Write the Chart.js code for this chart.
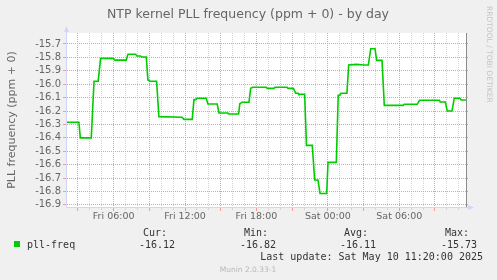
<!DOCTYPE html>
<html>
<head>
<meta charset="utf-8">
<title>NTP kernel PLL frequency - by day</title>
<script src="https://cdn.jsdelivr.net/npm/chart.js@4/dist/chart.umd.min.js"></script>
<style>
    html, body { margin: 0; padding: 0; background: #F0F0F0; }
    canvas { display: block; }
</style>
</head>
<body>
<canvas id="chart" width="497" height="280"></canvas>
<script>
// ── Data (hours since Fri 00:00, ppm) ──
const hours = [
    2.08, 3.08, 3.2, 4.12, 4.35, 4.7, 4.9, 5.97, 6.1, 7.06,
    7.2, 7.85, 7.95, 8.27, 8.35, 8.74, 8.88, 9.05, 9.61, 9.8,
    11.74, 11.9, 12.6, 12.75, 12.9, 13.0, 13.78, 13.92, 14.7, 14.85,
    15.6, 15.65, 16.5, 16.6, 16.8, 17.37, 17.51, 17.7, 18.82, 18.9,
    19.47, 19.55, 20.57, 20.65, 21.1, 21.3, 21.5, 21.55, 22.05, 22.2,
    22.69, 22.89, 23.17, 23.34, 23.9, 24.01, 24.71, 24.87, 25.0, 25.1,
    25.6, 25.75, 26.4, 27.0, 27.4, 27.6, 27.96, 28.1, 28.55, 28.74,
    30.34, 30.4, 31.5, 31.7, 33.37, 33.45, 33.87, 34.03, 34.43, 34.62,
    35.1, 35.2, 35.6,
];
const pllFreq = [
    -16.284, -16.284, -16.400, -16.400, -15.978, -15.978, -15.807, -15.807, -15.820, -15.820,
    -15.777, -15.777, -15.790, -15.790, -15.797, -15.797, -15.969, -15.978, -15.978, -16.242,
    -16.247, -16.262, -16.262, -16.115, -16.115, -16.105, -16.105, -16.148, -16.148, -16.215,
    -16.215, -16.222, -16.222, -16.145, -16.135, -16.135, -16.031, -16.023, -16.023, -16.031,
    -16.031, -16.023, -16.023, -16.031, -16.031, -16.068, -16.068, -16.075, -16.075, -16.456,
    -16.456, -16.715, -16.715, -16.815, -16.815, -16.583, -16.583, -16.083, -16.083, -16.068,
    -16.068, -15.857, -15.852, -15.857, -15.857, -15.735, -15.735, -15.822, -15.822, -16.158,
    -16.158, -16.150, -16.150, -16.120, -16.120, -16.133, -16.133, -16.200, -16.200, -16.105,
    -16.105, -16.118, -16.118,
];

const xMin = 2.08;
const xMax = 35.69;
const yMin = -16.916;
const yMax = -15.618;

const hourTicks = [];
for (let h = 3; h <= 35; h++) hourTicks.push(h);
const xLabelHours = [6, 12, 18, 24, 30];
const xLabelText = ['Fri 06:00', 'Fri 12:00', 'Fri 18:00', 'Sat 00:00', 'Sat 06:00'];
const yTicks = [-16.9, -16.8, -16.7, -16.6, -16.5, -16.4, -16.3, -16.2, -16.1, -16.0, -15.9, -15.8, -15.7];

const seriesName = 'pll-freq';
const statLabels = ['Cur:', 'Min:', 'Avg:', 'Max:'];
const statValues = ['-16.12', '-16.82', '-16.11', '-15.73'];
const lastUpdate = 'Last update: Sat May 10 11:20:00 2025';

// ── Munin / rrdtool colours ──
const FONT_COLOR = '#666666';
const AXIS_COLOR = '#CFD6F8';
const GRID_COLOR = '#D4D4D4';
const MGRID_COLOR = '#F29A9A';
const LINE_COLOR = '#00CC00';
const NONE = 'rgba(0,0,0,0)';
const SANS = "'DejaVu Sans', sans-serif";
const MONO = "'DejaVu Sans Mono', monospace";

// rrdtool style 1px dotted grid, placed through the chart scales
const dotGrid = {
    id: 'dotGrid',
    beforeDatasetsDraw(chart) {
        const { ctx, chartArea: a, scales: { x, y } } = chart;
        ctx.save();
        hourTicks.forEach(h => {
            const px = Math.floor(x.getPixelForValue(h));
            const major = h % 3 === 0;
            ctx.fillStyle = major ? MGRID_COLOR : GRID_COLOR;
            for (let py = a.top; py < a.bottom; py += 2) ctx.fillRect(px, py, 1, 1);
            ctx.fillRect(px, a.bottom + 1, 1, major ? 3 : 2);
        });
        ctx.fillStyle = MGRID_COLOR;
        yTicks.forEach(v => {
            const py = Math.floor(y.getPixelForValue(v));
            for (let px = a.left; px < a.right + 2; px += 2) ctx.fillRect(px, py, 1, 1);
            ctx.fillRect(a.left - 4, py, 3, 1);
        });
        ctx.restore();
    },
};

// Background, axes, title and the rrdtool-style legend
const muninFrame = {
    id: 'muninFrame',
    beforeDraw(chart) {
        const { ctx, chartArea: a } = chart;
        ctx.save();
        ctx.fillStyle = '#F0F0F0';
        ctx.fillRect(0, 0, chart.width, chart.height);
        ctx.fillStyle = '#FFFFFF';
        ctx.fillRect(a.left, a.top, a.right - a.left, a.bottom - a.top);
        ctx.restore();
    },
    afterDraw(chart) {
        const { ctx, chartArea: a } = chart;
        ctx.save();

        // right frame line
        ctx.strokeStyle = '#8C8C8C';
        ctx.lineWidth = 1;
        ctx.beginPath();
        ctx.moveTo(a.right - 0.5, a.top);
        ctx.lineTo(a.right - 0.5, a.bottom);
        ctx.stroke();

        // axes + arrows
        ctx.strokeStyle = AXIS_COLOR;
        ctx.fillStyle = AXIS_COLOR;
        ctx.beginPath();
        ctx.moveTo(a.left - 0.5, a.bottom + 0.5);
        ctx.lineTo(a.right + 3, a.bottom + 0.5);
        ctx.moveTo(a.left - 0.5, a.bottom + 0.5);
        ctx.lineTo(a.left - 0.5, a.top - 3);
        ctx.stroke();
        ctx.beginPath();
        ctx.moveTo(a.right + 1, a.bottom - 2);
        ctx.lineTo(a.right + 7, a.bottom + 0.5);
        ctx.lineTo(a.right + 1, a.bottom + 3);
        ctx.closePath();
        ctx.fill();
        ctx.beginPath();
        ctx.moveTo(a.left - 3, a.top - 1);
        ctx.lineTo(a.left - 0.5, a.top - 7);
        ctx.lineTo(a.left + 2, a.top - 1);
        ctx.closePath();
        ctx.fill();

        // title
        ctx.fillStyle = FONT_COLOR;
        ctx.textAlign = 'center';
        ctx.textBaseline = 'alphabetic';
        ctx.font = `12.5px ${SANS}`;
        ctx.fillText('NTP kernel PLL frequency (ppm + 0) - by day', 248, 18);

        // vertical axis label
        ctx.save();
        ctx.translate(15, (a.top + a.bottom) / 2);
        ctx.rotate(-Math.PI / 2);
        ctx.font = `11px ${SANS}`;
        ctx.fillText('PLL frequency (ppm + 0)', 0, 0);
        ctx.restore();

        // rrdtool watermark
        ctx.save();
        ctx.translate(487, 6);
        ctx.rotate(Math.PI / 2);
        ctx.textAlign = 'left';
        ctx.fillStyle = '#C4C4C4';
        ctx.font = `7.5px ${SANS}`;
        ctx.fillText('RRDTOOL / TOBI OETIKER', 0, 0);
        ctx.restore();

        // legend
        ctx.font = `10px ${MONO}`;
        ctx.fillStyle = LINE_COLOR;
        ctx.fillRect(14, 241, 6, 6);
        ctx.fillStyle = '#333333';
        ctx.textAlign = 'left';
        ctx.fillText(seriesName, 27, 248);

        const labelRight = [167, 268, 368, 469];
        ctx.textAlign = 'right';
        statLabels.forEach((lab, i) => {
            ctx.fillText(lab, labelRight[i], 236);
            ctx.fillText(statValues[i], labelRight[i] + 8, 248);
        });
        ctx.fillText(lastUpdate, 483, 260);

        ctx.textAlign = 'center';
        ctx.fillStyle = '#B8B8B8';
        ctx.font = `7.5px ${SANS}`;
        ctx.fillText('Munin 2.0.33-1', 248, 272);

        ctx.restore();
    },
};

new Chart(document.getElementById('chart'), {
    type: 'line',
    data: {
        datasets: [{
            label: seriesName,
            data: hours.map((h, i) => ({ x: h, y: pllFreq[i] })),
            borderColor: LINE_COLOR,
            borderWidth: 1.6,
            pointRadius: 0,
            tension: 0,
            fill: false,
        }],
    },
    options: {
        responsive: false,
        animation: false,
        layout: { padding: { left: 0, top: 33, right: 30, bottom: 0 } },
        plugins: {
            legend: { display: false },
            title: { display: false },
            tooltip: { enabled: false },
        },
        scales: {
            x: {
                type: 'linear',
                min: xMin,
                max: xMax,
                afterBuildTicks: s => { s.ticks = hourTicks.map(v => ({ value: v })); },
                afterFit: s => { s.height = 73; },
                ticks: {
                    autoSkip: false,
                    maxRotation: 0,
                    padding: 1,
                    color: FONT_COLOR,
                    font: { family: SANS, size: 9.5 },
                    callback: v => {
                        const i = xLabelHours.indexOf(v);
                        return i >= 0 ? xLabelText[i] : '';
                    },
                },
                grid: { color: NONE, tickColor: NONE, tickLength: 3 },
                border: { display: false },
            },
            y: {
                min: yMin,
                max: yMax,
                afterBuildTicks: s => { s.ticks = yTicks.map(v => ({ value: v })); },
                afterFit: s => { s.width = 67; },
                ticks: {
                    autoSkip: false,
                    padding: 3,
                    color: FONT_COLOR,
                    font: { family: SANS, size: 10 },
                    callback: v => v.toFixed(1),
                },
                grid: { color: NONE, tickColor: NONE, tickLength: 3 },
                border: { display: false },
            },
        },
    },
    plugins: [dotGrid, muninFrame],
});
</script>
</body>
</html>
